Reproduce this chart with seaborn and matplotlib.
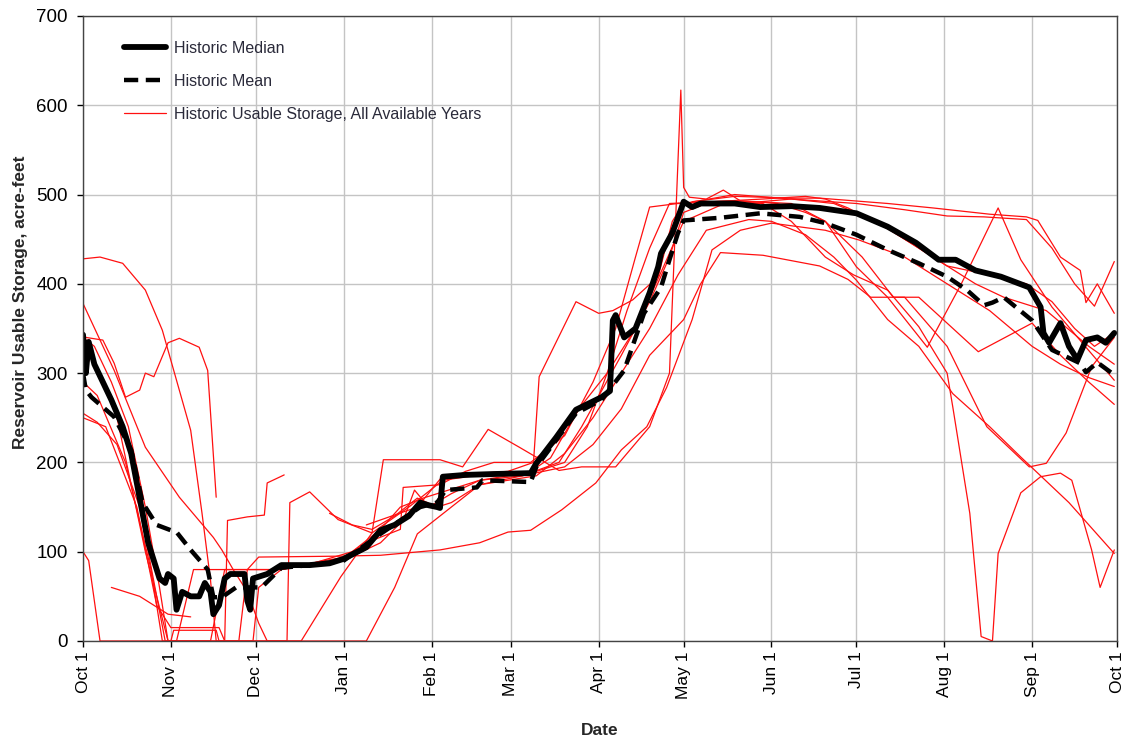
import numpy as np
import pandas as pd
import matplotlib
matplotlib.use("Agg")
import matplotlib.pyplot as plt
from matplotlib.lines import Line2D
import seaborn as sns

# ---------------- data (day of water year, storage acre-feet) ----------------
tick_days = [0, 31, 61, 92, 123, 151, 182, 212, 243, 273, 304, 335, 365]
tick_labels = ["Oct 1", "Nov 1", "Dec 1", "Jan 1", "Feb 1", "Mar 1", "Apr 1",
               "May 1", "Jun 1", "Jul 1", "Aug 1", "Sep 1", "Oct 1"]

median_days = [0, 1, 2, 4, 7, 10, 14, 17, 20, 23, 25, 27, 29, 30, 32, 33, 35, 38, 41, 43,
               45, 46, 48, 50, 52, 55, 57, 58, 59, 60, 65, 70, 80, 87, 92, 100, 105, 110,
               115, 119, 122, 125, 126, 127, 135, 145, 158, 160, 167, 174, 183, 186, 187,
               188, 191, 195, 200, 203, 204, 208, 211, 212, 215, 218, 230, 239, 250, 260,
               273, 284, 294, 302, 308, 315, 324, 334, 338, 339, 341, 345, 348, 351, 354,
               358, 361, 364]
median_vals = [343, 300, 335, 310, 290, 270, 240, 210, 160, 110, 90, 70, 65, 75, 70, 35, 55, 50, 50, 65,
               55, 30, 40, 70, 75, 75, 75, 45, 35, 70, 75, 85, 85, 87, 92, 105, 124, 130,
               140, 155, 152, 150, 149, 184, 186, 187, 188, 199, 228, 259, 273, 280, 359,
               365, 340, 350, 390, 419, 434, 457, 483, 492, 486, 490, 490, 486, 487, 485,
               479, 464, 446, 427, 427, 415, 408, 396, 374, 345, 334, 356, 330, 315, 337,
               340, 334, 345]

mean_days = [0, 1, 3, 11, 17, 21, 26, 31, 33, 38, 44, 46, 49, 54, 63, 70, 80, 92, 105, 119,
             125, 128, 139, 141, 158, 160, 167, 174, 183, 191, 198, 204, 207, 210, 212, 225,
             239, 253, 262, 273, 284, 295, 305, 312, 318, 321, 325, 335, 342, 352, 354, 358, 364]
mean_vals = [300, 281, 273, 251, 214, 155, 130, 124, 122, 102, 80, 49, 49, 60, 60, 82, 85, 90, 120, 150,
             155, 169, 172, 180, 178, 195, 225, 255, 270, 303, 367, 396, 427, 457, 471, 474,
             479, 475, 468, 455, 438, 423, 408, 393, 376, 379, 385, 359, 326, 311, 301, 312, 298]

# individual years; None marks a gap in the record
year_1 = [(0, 428), (6, 430), (14, 423), (22, 393), (28, 348), (33, 292), (38, 236), (42, 143),
          (45, 68), (47, 0), (72, 0), (73, 155), (80, 167), (90, 136), (102, 121), (106, 203),
          (126, 203), (134, 195), (143, 237), (154, 217), (168, 191), (176, 195), (188, 195),
          (200, 240), (207, 300), (211, 617), (212, 508), (214, 497), (220, 495), (226, 505),
          (232, 493), (245, 490), (255, 480), (262, 470), (275, 430), (286, 385), (295, 385),
          (316, 324), (335, 356), (345, 320), (355, 290), (364, 265)]
year_2 = [(0, 345), (1, 340), (7, 337), (11, 311), (15, 273), (20, 281), (22, 300), (25, 296),
          (30, 334), (34, 339), (41, 329), (44, 303), (47, 161), None,
          (100, 130), (118, 150), (127, 185), (150, 190), (159, 200), (161, 296), (174, 380),
          (182, 367), (187, 370), (194, 382), (203, 408), (208, 470), (212, 490), (230, 500),
          (250, 495), (273, 490), (290, 483), (305, 476), (318, 475), (333, 472), (342, 440),
          (350, 400), (357, 375), (364, 425)]
year_3 = [(0, 378), (11, 303), (22, 217), (34, 161), (46, 116), (49, 102), (53, 80), (58, 55),
          (62, 20), (65, 0), (77, 0), (91, 72), (102, 121), (115, 150), (127, 180), (140, 186),
          (158, 190), (165, 205), (175, 260), (185, 300), (195, 350), (205, 420), (212, 470),
          (225, 488), (250, 495), (265, 490), (280, 470), (295, 440), (305, 420), (315, 400),
          (325, 385), (340, 370), (355, 330), (364, 310)]
year_4 = [(0, 255), (5, 245), (12, 220), (20, 150), (26, 50), (29, 0), (55, 0), (58, 80),
          (62, 94), (90, 95), (105, 96), (126, 102), (140, 110), (150, 122), (158, 124),
          (169, 147), (181, 177), (190, 214), (199, 240), (206, 284), (215, 360), (222, 438),
          (232, 460), (243, 468), (262, 460), (274, 449), (290, 430), (305, 400), (320, 370),
          (335, 330), (345, 310), (355, 295), (364, 285)]
year_5 = [(0, 290), (5, 275), (15, 200), (24, 80), (28, 0), (31, 0), (32, 12), (47, 12),
          (48, 0), (55, 0), (100, 0), (110, 60), (118, 120), (130, 150), (140, 175), (155, 185),
          (170, 195), (180, 220), (190, 260), (200, 320), (212, 360), (218, 400), (225, 435),
          (240, 432), (260, 420), (270, 405), (278, 385), (290, 385), (305, 330), (319, 240),
          (334, 195), (340, 199), (347, 233), (356, 307), (364, 340)]
year_6 = [(0, 250), (8, 240), (19, 150), (26, 40), (31, 15), (48, 15), (50, 0), (60, 0),
          (62, 60), (70, 80), (85, 90), (95, 95), (105, 110), (113, 135), (117, 169), (122, 150),
          (130, 165), (140, 180), (155, 185), (168, 200), (176, 240), (183, 280), (190, 320),
          (200, 380), (207, 430), (212, 480), (220, 490), (240, 490), (250, 470), (262, 430),
          (272, 410), (284, 393), (295, 352), (305, 300), (307, 262), (313, 143), (317, 5),
          (321, 0), (323, 98), (331, 166), (338, 184), (345, 188), (349, 180), (356, 102),
          (359, 60), (364, 102)]
year_7 = [(0, 100), (2, 90), (6, 0), (45, 0), (50, 80), (70, 80), (80, 86), (95, 100),
          (105, 125), (112, 150), (120, 160), (130, 170), (140, 180), (150, 185), (160, 190),
          (170, 200), (178, 240), (185, 300), (192, 370), (200, 440), (207, 490), (230, 493),
          (250, 490), (262, 470), (273, 419), (284, 385), (298, 329), (310, 400), (323, 485),
          (331, 427), (342, 374), (354, 329), (364, 292)]
year_8 = [(0, 300), (3, 320), (12, 250), (22, 100), (30, 0), (33, 0), (39, 80), (70, 80),
          (78, 85), (90, 90), (100, 110), (112, 125), (113, 172), (126, 175), (135, 190),
          (145, 200), (158, 200), (170, 230), (180, 290), (188, 350), (195, 430), (200, 486),
          (210, 490), (240, 495), (255, 498), (262, 495), (270, 485), (285, 460), (295, 440),
          (305, 420), (320, 410), (333, 400), (342, 380), (350, 350), (357, 330), (364, 345)]
year_9 = [(10, 60), (20, 50), (25, 40), (30, 30), (38, 27), None,
          (87, 143), (95, 130), (102, 125), (110, 140), (118, 160), (125, 150), (130, 155),
          (140, 175), (150, 180), (160, 185), (170, 210), (180, 250), (190, 300), (200, 350),
          (210, 410), (220, 460), (235, 472), (243, 470), (255, 455), (265, 430), (273, 404),
          (284, 360), (295, 330), (307, 277), (320, 240), (331, 206), (348, 155), (364, 98)]
year_10 = [(0, 340), (4, 330), (10, 290), (16, 240), (22, 150), (27, 60), (30, 0), (50, 0),
           (51, 135), (58, 139), (64, 141), (65, 177), (71, 186), None,
           (215, 492), (230, 498), (250, 496), (260, 496), (284, 490), (300, 485), (320, 478),
           (333, 475), (337, 471), (345, 430), (352, 415), (354, 379), (358, 400), (364, 367)]

years = [year_1, year_2, year_3, year_4, year_5, year_6, year_7, year_8, year_9, year_10]

# ---------------- build long table of segments ----------------
rows = []
seg = 0
for yi, yr in enumerate(years):
    for p in yr:
        if p is None:
            seg += 1
            continue
        rows.append({"year": yi, "seg": seg, "day": p[0], "storage": p[1]})
    seg += 1
red_df = pd.DataFrame(rows)

sns.set_style("white")
plt.rcParams["font.family"] = ["Liberation Sans", "DejaVu Sans"]

fig = plt.figure(figsize=(11.25, 7.4), dpi=100)
ax = fig.add_axes([0.0738, 0.1338, 0.9192, 0.8446])

sns.lineplot(data=red_df, x="day", y="storage", units="seg", estimator=None,
             color="#ff1010", linewidth=0.9, sort=False, legend=False, ax=ax)
sns.lineplot(x=mean_days, y=mean_vals, color="black", linewidth=3.2,
             linestyle=(0, (3.2, 1.7)), sort=False, ax=ax)
sns.lineplot(x=median_days, y=median_vals, color="black", linewidth=4.2, sort=False, ax=ax)

ax.set_xlim(0, 365)
ax.set_ylim(0, 700)
ax.set_xticks(tick_days)
ax.set_xticklabels(tick_labels, rotation=90, fontsize=12.5)
ax.set_yticks(range(0, 701, 100))
ax.tick_params(axis="y", labelsize=13.5, pad=7)
ax.tick_params(bottom=True, left=True, direction="out", length=4, width=1, colors="black")
ax.grid(True, color="#c4c4c4", linewidth=1)
for s in ax.spines.values():
    s.set_color("#444444")
    s.set_linewidth(1)
ax.set_xlabel("Date", fontsize=12.5, fontweight="bold", labelpad=17)
ax.set_ylabel("Reservoir Usable Storage, acre-feet", fontsize=12.5, fontweight="bold")
ax.yaxis.set_label_coords(-0.053, 0.542)

handles = [Line2D([], [], color="black", lw=4.2),
           Line2D([], [], color="black", lw=3.2, linestyle=(0, (3.2, 1.7))),
           Line2D([], [], color="#ff1010", lw=0.9)]
labels = ["Historic Median", "Historic Mean", "Historic Usable Storage, All Available Years"]
leg = ax.legend(handles, labels, loc="upper left", bbox_to_anchor=(0.026, 0.983), frameon=False,
                fontsize=11.5, handlelength=2.6, handletextpad=0.5, labelspacing=1.12)
for t in leg.get_texts():
    t.set_color("#2a2a3a")

fig.savefig("out.png", dpi=100)
